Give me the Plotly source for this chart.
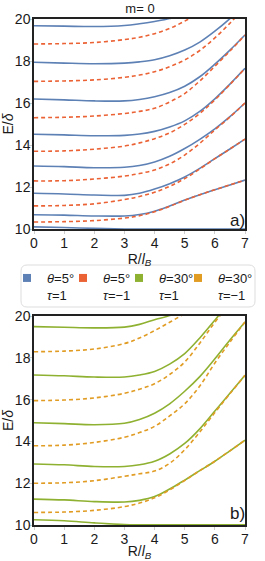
import plotly.graph_objects as go

# ---------------- data ----------------
R = [0, 1, 2, 3, 3.5, 4, 4.5, 5, 5.5, 6, 6.5, 7]

# panel a) theta = 5 deg, tau = +1 (solid blue)
theta5_tau_p = [
    [10.10, 10.07, 10.03, 10.00, 10.00, 10.00, 10.00, 10.00, 10.00, 10.00, 10.00, 10.00],
    [10.68, 10.66, 10.62, 10.62, 10.69, 10.85, 11.10, 11.38, 11.63, 11.87, 12.10, 12.33],
    [11.70, 11.67, 11.62, 11.60, 11.70, 11.90, 12.16, 12.48, 12.89, 13.35, 13.81, 14.28],
    [13.00, 12.97, 12.92, 12.94, 13.02, 13.19, 13.46, 13.83, 14.27, 14.77, 15.35, 16.00],
    [14.51, 14.48, 14.44, 14.46, 14.52, 14.65, 14.86, 15.15, 15.60, 16.20, 16.90, 17.65],
    [16.19, 16.15, 16.10, 16.10, 16.17, 16.30, 16.50, 16.80, 17.25, 17.85, 18.52, 19.24],
    [17.94, 17.90, 17.87, 17.90, 17.96, 18.06, 18.25, 18.52, 18.90, 19.42, 20.02, 20.70],
    [19.68, 19.66, 19.64, 19.69, 19.77, 19.88, 20.02, 20.25, 20.60, 21.00, 21.50, 22.00],
]
# panel a) theta = 5 deg, tau = -1 (dashed red)
theta5_tau_m = [
    [10.33, 10.35, 10.40, 10.52, 10.63, 10.82, 11.08, 11.37, 11.63, 11.87, 12.10, 12.33],
    [11.10, 11.12, 11.20, 11.40, 11.55, 11.75, 12.03, 12.40, 12.86, 13.35, 13.81, 14.28],
    [12.29, 12.30, 12.38, 12.52, 12.64, 12.81, 13.10, 13.52, 14.08, 14.72, 15.33, 16.00],
    [13.70, 13.72, 13.80, 13.95, 14.10, 14.30, 14.58, 14.98, 15.50, 16.15, 16.88, 17.65],
    [15.30, 15.32, 15.38, 15.50, 15.60, 15.75, 16.05, 16.45, 17.05, 17.75, 18.47, 19.24],
    [17.03, 17.05, 17.10, 17.22, 17.33, 17.49, 17.73, 18.05, 18.50, 19.10, 19.80, 20.55],
    [18.81, 18.83, 18.88, 19.02, 19.13, 19.30, 19.55, 19.90, 20.30, 20.80, 21.30, 21.80],
]
# panel b) theta = 30 deg, tau = +1 (solid green)
theta30_tau_p = [
    [10.25, 10.20, 10.10, 10.02, 10.01, 10.01, 10.01, 10.01, 10.01, 10.01, 10.01, 10.01],
    [11.24, 11.20, 11.12, 11.10, 11.18, 11.36, 11.72, 12.15, 12.60, 13.05, 13.55, 14.06],
    [12.92, 12.88, 12.80, 12.80, 12.88, 13.05, 13.40, 13.90, 14.60, 15.45, 16.30, 17.16],
    [14.89, 14.85, 14.80, 14.87, 15.05, 15.35, 15.80, 16.40, 17.10, 17.95, 18.85, 19.71],
    [17.18, 17.14, 17.08, 17.08, 17.18, 17.35, 17.70, 18.20, 18.95, 19.80, 20.70, 21.60],
    [19.49, 19.46, 19.43, 19.47, 19.60, 19.82, 20.02, 20.40, 20.90, 21.50, 22.20, 23.00],
]
# panel b) theta = 30 deg, tau = -1 (dashed orange)
theta30_tau_m = [
    [10.60, 10.62, 10.70, 10.88, 11.05, 11.30, 11.68, 12.13, 12.60, 13.05, 13.55, 14.06],
    [12.00, 12.02, 12.12, 12.33, 12.45, 12.58, 12.95, 13.60, 14.45, 15.38, 16.28, 17.16],
    [13.79, 13.82, 13.95, 14.20, 14.42, 14.72, 15.22, 15.80, 16.65, 17.75, 18.75, 19.71],
    [15.95, 15.98, 16.08, 16.30, 16.50, 16.76, 17.20, 17.80, 18.70, 19.70, 20.60, 21.50],
    [18.29, 18.32, 18.42, 18.68, 18.95, 19.30, 19.70, 20.12, 20.60, 21.20, 21.80, 22.50],
]

x_ticks = [0, 1, 2, 3, 4, 5, 6, 7]
y_ticks = [10, 12, 14, 16, 18, 20]

legend_names = ["<i>θ</i>=5°<br><i>τ</i>=1", "<i>θ</i>=5°<br><i>τ</i>=−1",
                "<i>θ</i>=30°<br><i>τ</i>=1", "<i>θ</i>=30°<br><i>τ</i>=−1"]

BLUE, RED, GREEN, ORANGE = "#5E81B5", "#EB6235", "#8FB131", "#E19C24"
FONT = "Liberation Sans, Arial, sans-serif"
TXT = "#1a1a1a"

W, H = 265, 561


def fx(p):
    return p / W


def fy(p):
    return 1 - p / H


fig = go.Figure()

series = [
    (theta5_tau_p, BLUE, "solid", "x", "y"),
    (theta5_tau_m, RED, "4px,3px", "x", "y"),
    (theta30_tau_p, GREEN, "solid", "x2", "y2"),
    (theta30_tau_m, ORANGE, "4px,3px", "x2", "y2"),
]
for curves, col, dash, xa, ya in series:
    for c in curves:
        fig.add_trace(go.Scatter(
            x=R, y=c, mode="lines", xaxis=xa, yaxis=ya, showlegend=False,
            line=dict(color=col, width=1.6, dash=dash, shape="spline", smoothing=1.0),
            hoverinfo="skip"))

# legend entries (square swatches), one legend per entry
leg_left_px = [7, 63, 119, 178]
for i, (name, col) in enumerate(zip(legend_names, [BLUE, RED, GREEN, ORANGE])):
    lname = "legend" if i == 0 else f"legend{i+1}"
    fig.add_trace(go.Scatter(
        x=[None], y=[None], mode="markers", name=name, legend=lname,
        marker=dict(symbol="square", size=8, color=col)))
    fig.update_layout(**{lname: dict(
        x=fx(leg_left_px[i]), xanchor="left", y=fy(263), yanchor="top",
        orientation="v", valign="top", bgcolor="rgba(0,0,0,0)", borderwidth=0,
        font=dict(family=FONT, size=13, color=TXT), tracegroupgap=0)})

axis_common = dict(
    showline=True, mirror=True, linecolor="#222", linewidth=1.5,
    showgrid=False, zeroline=False, ticks="outside", ticklen=3,
    tickcolor="#cccccc", tickwidth=1,
    tickfont=dict(family=FONT, size=14, color=TXT),
)
x_dom = [fx(34), fx(245)]
top_dom = [fy(229), fy(19)]
bot_dom = [fy(525), fy(316)]
xtitle = dict(text="R/<i>l</i><sub><i>B</i></sub>", font=dict(family=FONT, size=14, color=TXT), standoff=0)
ytitle = dict(text="E/<i>δ</i>", font=dict(family=FONT, size=14, color=TXT), standoff=4)

fig.update_layout(
    width=W, height=H,
    margin=dict(l=0, r=0, t=0, b=0),
    plot_bgcolor="white", paper_bgcolor="white",
    font=dict(family=FONT, color=TXT),
    title=dict(text="m= 0", x=fx(140), xanchor="center", xref="paper",
               y=fy(8), yanchor="middle", yref="container",
               font=dict(family=FONT, size=13, color=TXT)),
    xaxis=dict(**axis_common, range=[0, 7], tickvals=x_ticks, domain=x_dom,
               anchor="y", title=xtitle, automargin=False, ticklabelstandoff=-3),
    yaxis=dict(**axis_common, range=[10, 20], tickvals=y_ticks, domain=top_dom,
               anchor="x", title=ytitle, automargin=False, ticklabelstandoff=-4),
    xaxis2=dict(**axis_common, range=[0, 7], tickvals=x_ticks, domain=x_dom,
                anchor="y2", title=xtitle, automargin=False, ticklabelstandoff=-3),
    yaxis2=dict(**axis_common, range=[10, 20], tickvals=y_ticks, domain=bot_dom,
                anchor="x2", title=ytitle, automargin=False, ticklabelstandoff=-4),
)

# panel labels
fig.add_annotation(text="a)", xref="paper", yref="y domain", x=fx(247), y=0.04,
                   xanchor="right", yanchor="middle", showarrow=False,
                   font=dict(family=FONT, size=17, color=TXT))
fig.add_annotation(text="b)", xref="paper", yref="y2 domain", x=fx(247), y=0.055,
                   xanchor="right", yanchor="middle", showarrow=False,
                   font=dict(family=FONT, size=17, color=TXT))

# legend frame (rounded rectangle)
x0, x1 = fx(21), fx(255)
y0, y1 = fy(307), fy(265)
rx, ry = 6 / W, 6 / H
path = (f"M {x0+rx},{y1} L {x1-rx},{y1} Q {x1},{y1} {x1},{y1-ry} "
        f"L {x1},{y0+ry} Q {x1},{y0} {x1-rx},{y0} L {x0+rx},{y0} "
        f"Q {x0},{y0} {x0},{y0+ry} L {x0},{y1-ry} Q {x0},{y1} {x0+rx},{y1} Z")
fig.add_shape(type="path", path=path, xref="paper", yref="paper",
              line=dict(color="#dddddd", width=1), fillcolor="rgba(0,0,0,0)", layer="below")

# remove the default page margin so the 265x561 figure fills the window
fig.write_html("out.html", config={"displayModeBar": False},
               post_script="document.body.style.margin='0';")
